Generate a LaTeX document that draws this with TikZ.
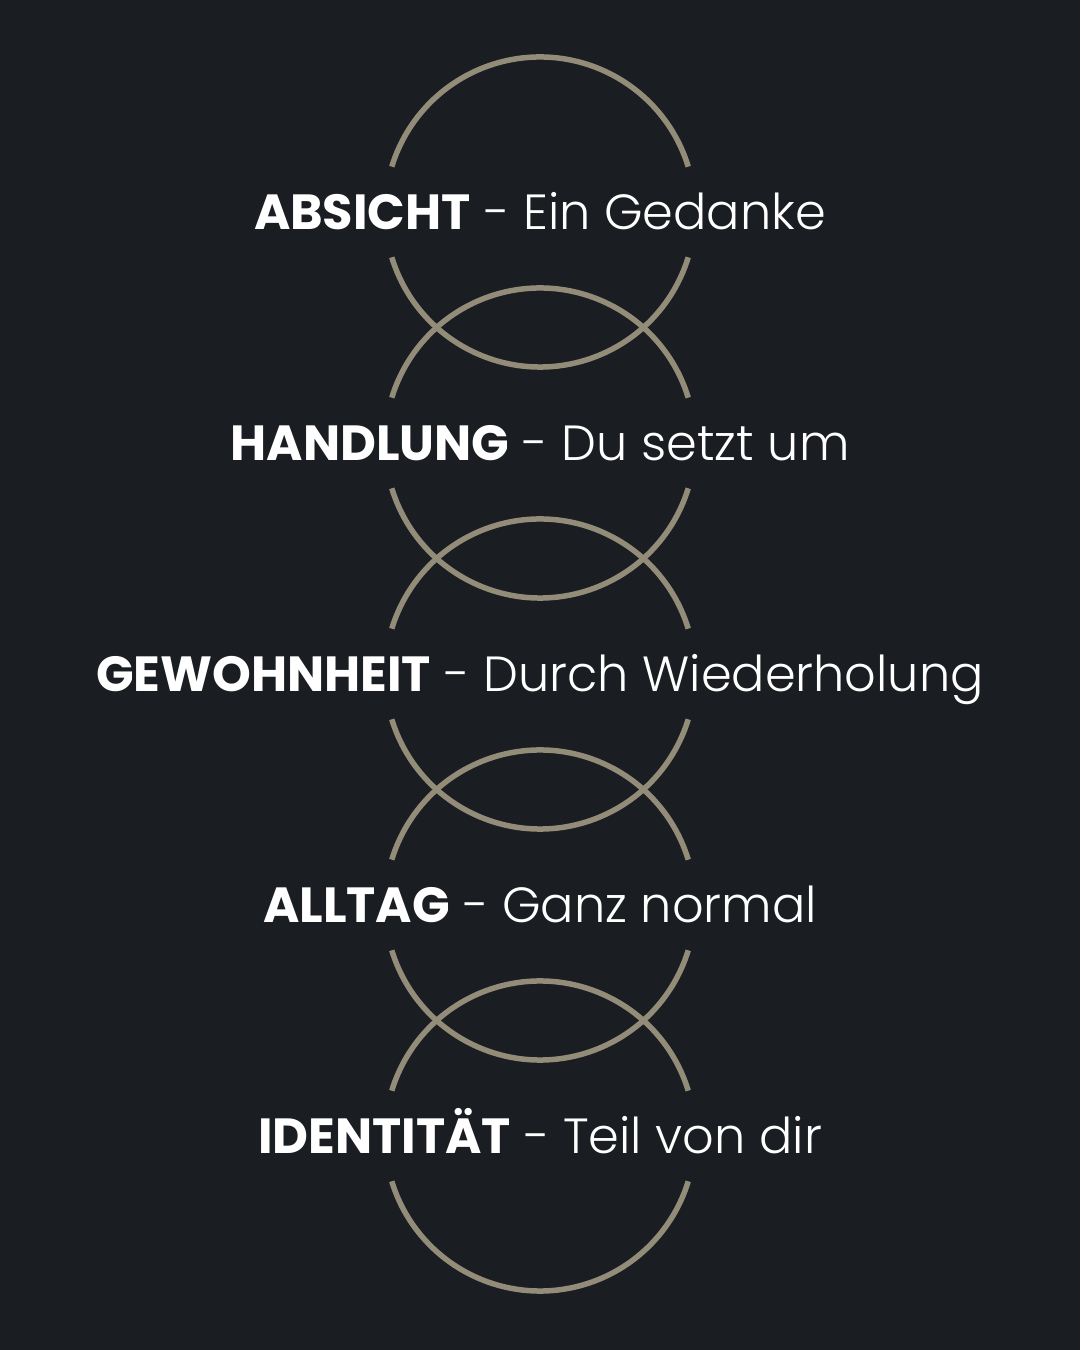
\documentclass[tikz,border=0pt]{standalone}
\usepackage{fontspec}
\setmainfont{Poppins}
\newfontfamily\lightfont{Poppins Light}
\usepackage{tikz}
\definecolor{bgdark}{HTML}{1A1D21}
\definecolor{ringtan}{HTML}{928C78}
\tikzset{
  ring/.style={draw=ringtan, line width=5.5pt},
  steplabel/.style={text=white, anchor=base, inner sep=0pt, font=\fontsize{49.4}{60}\selectfont}
}

\begin{document}
\begin{tikzpicture}[x=1pt, y=1pt]
\fill[bgdark] (0,0) rectangle (1080,1350);
\foreach \cy in {212,443,674,905,1136}
{
  \draw[ring] ([shift={(17:155pt)}]540,1350-\cy) arc[start angle=17, end angle=163, radius=155pt];
  \draw[ring] ([shift={(197:155pt)}]540,1350-\cy) arc[start angle=197, end angle=343, radius=155pt];
}
\node[steplabel] (absicht) at (540,1350-230) {\textbf{ABSICHT} {\lightfont - Ein Gedanke}};
\node[steplabel] (handlung) at (540,1350-461) {\textbf{HANDLUNG} {\lightfont - Du setzt um}};
\node[steplabel] (gewohnheit) at (540,1350-692) {\textbf{GEWOHNHEIT} {\lightfont - Durch Wiederholung}};
\node[steplabel] (alltag) at (540,1350-923) {\textbf{ALLTAG} {\lightfont - Ganz normal}};
\node[steplabel] (identitaet) at (540,1350-1154) {\textbf{IDENTITÄT} {\lightfont - Teil von dir}};
\end{tikzpicture}
\end{document}
